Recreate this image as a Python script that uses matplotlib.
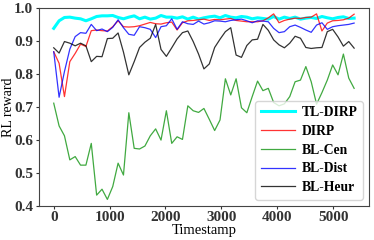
import numpy as np
import matplotlib
matplotlib.use('Agg')
import matplotlib.pyplot as plt

# 96 slots per day, 57 samples
timestamp = np.arange(57) * 96

tl_dirp = [0.938, 0.961, 0.971, 0.972, 0.969, 0.967, 0.961, 0.967, 0.974, 0.976,
           0.976, 0.977, 0.971, 0.967, 0.972, 0.976, 0.967, 0.972, 0.966, 0.969,
           0.977, 0.972, 0.972, 0.969, 0.973, 0.966, 0.972, 0.966, 0.970, 0.973,
           0.975, 0.970, 0.977, 0.972, 0.970, 0.974, 0.972, 0.967, 0.970, 0.968,
           0.966, 0.974, 0.966, 0.972, 0.968, 0.972, 0.966, 0.969, 0.971, 0.968,
           0.974, 0.970, 0.967, 0.971, 0.973, 0.968, 0.969]

dirp = [0.867, 0.832, 0.731, 0.837, 0.862, 0.890, 0.883, 0.931, 0.933, 0.931,
        0.930, 0.943, 0.961, 0.943, 0.942, 0.943, 0.946, 0.951, 0.956, 0.952,
        0.951, 0.955, 0.957, 0.933, 0.955, 0.961, 0.962, 0.964, 0.966, 0.962,
        0.965, 0.964, 0.966, 0.968, 0.962, 0.960, 0.958, 0.958, 0.958, 0.961,
        0.970, 0.982, 0.955, 0.962, 0.966, 0.969, 0.968, 0.971, 0.972, 0.982,
        0.930, 0.954, 0.961, 0.962, 0.964, 0.969, 0.981]

bl_cen = [0.711, 0.642, 0.612, 0.539, 0.549, 0.523, 0.523, 0.589, 0.432, 0.450,
          0.419, 0.458, 0.529, 0.493, 0.682, 0.574, 0.572, 0.581, 0.612, 0.633,
          0.599, 0.688, 0.589, 0.609, 0.601, 0.703, 0.688, 0.683, 0.695, 0.662,
          0.628, 0.660, 0.785, 0.736, 0.785, 0.697, 0.682, 0.731, 0.778, 0.749,
          0.756, 0.713, 0.703, 0.709, 0.731, 0.776, 0.781, 0.822, 0.776, 0.708,
          0.743, 0.781, 0.827, 0.797, 0.860, 0.787, 0.756]

bl_dist = [0.867, 0.729, 0.807, 0.875, 0.913, 0.925, 0.923, 0.950, 0.931, 0.936,
           0.928, 0.941, 0.964, 0.940, 0.920, 0.917, 0.943, 0.940, 0.935, 0.910,
           0.943, 0.946, 0.967, 0.935, 0.958, 0.952, 0.950, 0.960, 0.951, 0.955,
           0.961, 0.960, 0.958, 0.962, 0.964, 0.966, 0.961, 0.955, 0.961, 0.960,
           0.958, 0.938, 0.925, 0.928, 0.943, 0.948, 0.941, 0.933, 0.926, 0.948,
           0.955, 0.935, 0.943, 0.946, 0.948, 0.950, 0.954]

bl_heur = [0.879, 0.863, 0.898, 0.893, 0.885, 0.893, 0.885, 0.837, 0.853, 0.852,
           0.907, 0.908, 0.924, 0.866, 0.797, 0.837, 0.880, 0.896, 0.908, 0.950,
           0.874, 0.853, 0.879, 0.906, 0.925, 0.930, 0.898, 0.860, 0.815, 0.830,
           0.880, 0.905, 0.928, 0.940, 0.857, 0.850, 0.886, 0.903, 0.905, 0.950,
           0.932, 0.903, 0.888, 0.879, 0.893, 0.914, 0.908, 0.880, 0.877, 0.879,
           0.880, 0.928, 0.935, 0.912, 0.884, 0.898, 0.878]

fig = plt.figure(figsize=(3.74, 2.40), dpi=100)
ax = fig.add_axes([0.1035, 0.143, 0.8835, 0.824])

ax.plot(timestamp, tl_dirp, color='cyan', lw=2.2, label='TL-DIRP')
ax.plot(timestamp, dirp, color='red', lw=0.9, alpha=0.8, label='DIRP')
ax.plot(timestamp, bl_cen, color='#2ca02c', lw=0.9, alpha=0.9, label='BL-Cen')
ax.plot(timestamp, bl_dist, color='blue', lw=0.9, alpha=0.8, label='BL-Dist')
ax.plot(timestamp, bl_heur, color='black', lw=0.9, alpha=0.8, label='BL-Heur')

ax.set_ylim(0.4, 1.0)
ax.set_yticks([0.4, 0.5, 0.6, 0.7, 0.8, 0.9, 1.0])
ax.set_xticks([0, 1000, 2000, 3000, 4000, 5000])

tick_font = {'family': 'Liberation Serif', 'weight': 'bold', 'size': 11}
ax.set_xticklabels(['0', '1000', '2000', '3000', '4000', '5000'], fontdict=tick_font)
ax.set_yticklabels(['0.4', '0.5', '0.6', '0.7', '0.8', '0.9', '1.0'], fontdict=tick_font)
ax.tick_params(length=2.5, width=0.8, pad=1.5, colors='#333333')
for s in ax.spines.values():
    s.set_color('#444444')
    s.set_linewidth(0.8)

ax.set_xlabel('Timestamp', family='Liberation Serif', size=10.5, labelpad=0)
ax.set_ylabel('RL reward', family='Liberation Serif', size=10)
ax.yaxis.set_label_coords(-0.073, 0.5)

leg = ax.legend(loc='lower right', prop={'family': 'Liberation Serif', 'weight': 'bold', 'size': 9.8},
                handlelength=2.5, handletextpad=0.5, labelspacing=0.42, borderaxespad=0.45)

fig.savefig('out.png', dpi=100)
